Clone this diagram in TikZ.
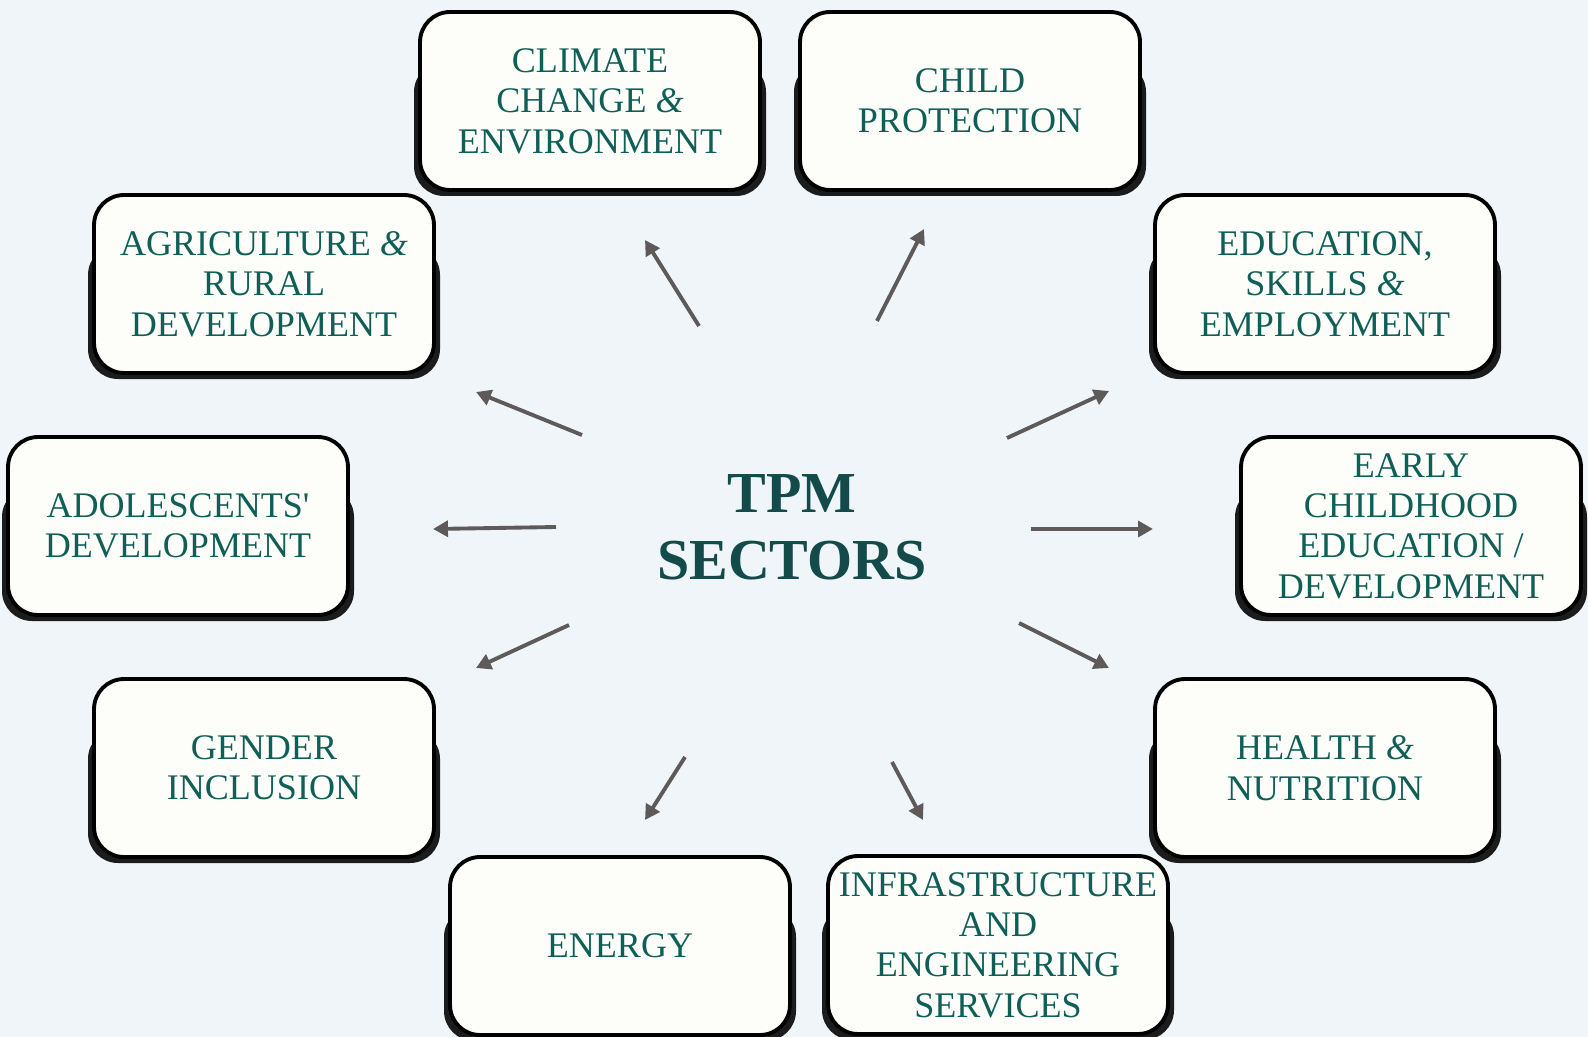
\documentclass[tikz,border=0pt]{standalone}
\usepackage{fontspec}
\setmainfont{Liberation Serif}
\usetikzlibrary{arrows.meta}
\definecolor{pagebg}{HTML}{EFF5F9}
\definecolor{boxfill}{HTML}{FDFDF9}
\definecolor{sectortext}{HTML}{0F5F57}
\definecolor{titletext}{HTML}{124B49}
\definecolor{spokegray}{HTML}{5E5A5A}
\definecolor{shadowgray}{HTML}{1C1C1C}
\newcommand{\amp}{\textit{\&}}

\begin{document}
\begin{tikzpicture}[x=0.02cm, y=-0.02cm,
    sector/.style={rectangle, rounded corners=0.6cm, draw=black,
      line width=2.2pt, fill=boxfill, text=sectortext,
      minimum width=6.8cm, minimum height=3.56cm, inner sep=2pt,
      align=center, font=\fontsize{20.5}{23}\selectfont},
    boxshadow/.style={fill=shadowgray, rounded corners=0.6cm},
    spoke/.style={draw=spokegray, line width=2.2pt,
      -{Triangle[length=8.5pt, width=9pt]}},
    title/.style={text=titletext, align=center,
      font=\bfseries\fontsize{33}{38}\selectfont}
    ]
    % background and page size
    \useasboundingbox (0,0) rectangle (1588,1037);
    \clip (0,0) rectangle (1588,1037);
    \fill[pagebg] (0,0) rectangle (1588,1037);

    % sector boxes with their shadows
    \foreach \nm/\cx/\cy/\txt in {
        climate/590/101/{CLIMATE\\CHANGE \amp\\ENVIRONMENT},
        child/970/101/{CHILD\\PROTECTION},
        agri/264/284/{AGRICULTURE \amp\\RURAL\\DEVELOPMENT},
        edu/1325/284/{EDUCATION,\\SKILLS \amp\\EMPLOYMENT},
        adol/178/526/{ADOLESCENTS\textquotesingle\\DEVELOPMENT},
        early/1411/526/{EARLY\\CHILDHOOD\\EDUCATION /\\DEVELOPMENT},
        gender/264/768/{GENDER\\INCLUSION},
        health/1325/768/{HEALTH \amp\\NUTRITION},
        energy/620/946/{ENERGY},
        infra/998/945/{INFRASTRUCTURE\\AND\\ENGINEERING\\SERVICES}}{
      \fill[boxshadow] (\cx-176,\cy-39) rectangle (\cx+176,\cy+95);
      \node[sector] (\nm) at (\cx,\cy) {\txt};
    }

    \node[title] (tpm) at (792,527) {TPM\\SECTORS};

    % spokes around the title
    \foreach \i/\ax/\ay/\bx/\by in {
        1/699/326/645/240, 2/877/321/924/229,
        3/582/435/476/392, 4/1007/438/1109/391,
        5/556/527/433/529, 6/1031/529/1153/529,
        7/569/625/476/668, 8/1019/623/1109/668,
        9/685/757/645/820, 10/892/762/923/820}{
      \coordinate (s\i) at (\ax,\ay);
      \coordinate (t\i) at (\bx,\by);
      \draw[spoke] (s\i) -- (t\i);
    }
\end{tikzpicture}
\end{document}
